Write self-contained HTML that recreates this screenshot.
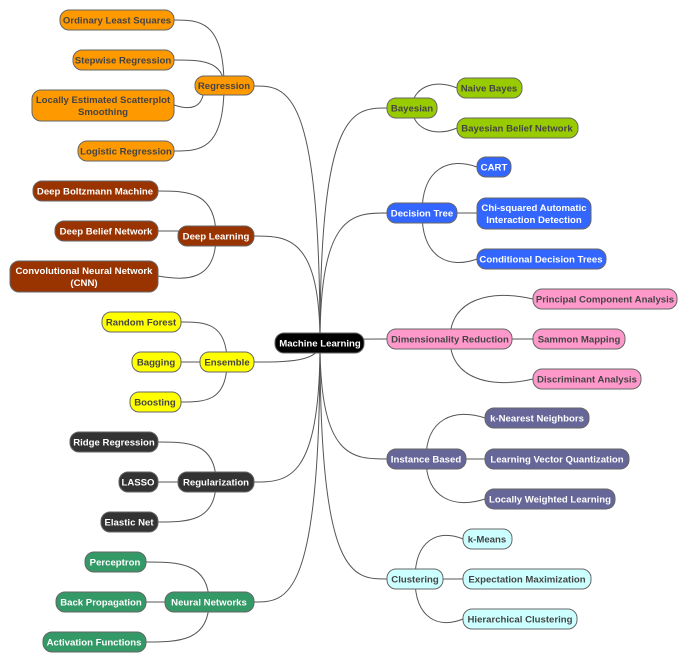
<!DOCTYPE html>
<html><head><meta charset="utf-8"><style>
html,body{margin:0;padding:0;background:#fff}
svg{display:block}
text{font-family:"Liberation Sans",sans-serif;font-weight:bold;font-size:9.6px;text-anchor:middle}
.d{fill:#444}.w{fill:#fff}
rect{stroke:#666;stroke-width:1}
path{fill:none;stroke:#555;stroke-width:1}
</style></head><body>
<svg width="687" height="662" viewBox="0 0 687 662" xmlns="http://www.w3.org/2000/svg">
<!-- root connectors -->
<path d="M320 343 C320 86,287 86,254 86"/>
<path d="M320 343 C320 236,287 236,254 236"/>
<path d="M320 343 C320 362,287 362,254 362"/>
<path d="M320 343 C320 482,287 482,254 482"/>
<path d="M320 343 C320 602,287 602,254 602"/>
<path d="M320 343 C320 108,353 108,387 108"/>
<path d="M320 343 C320 213,353 213,387 213"/>
<path d="M320 343 C320 339,353 339,387 339"/>
<path d="M320 343 C320 459,353 459,387 459"/>
<path d="M320 343 C320 579,353 579,387 579"/>
<!-- regression -->
<path d="M224 86 C224 20,199 20,174 20"/>
<path d="M224 86 C224 60,199 60,174 60"/>
<path d="M204 86 C204 110,189 110,174 105"/>
<path d="M224 86 C224 151,199 151,174 151"/>
<!-- deep learning -->
<path d="M216 236 C216 191,187 191,158 191"/>
<path d="M216 231 L158 231"/>
<path d="M216 236 C216 281,187 281,158 276"/>
<!-- ensemble -->
<path d="M227 362 C227 322,204 322,181 322"/>
<path d="M227 362 L181 362"/>
<path d="M227 362 C227 402,204 402,181 402"/>
<!-- regularization -->
<path d="M216 482 C216 442,187 442,158 442"/>
<path d="M216 482 L158 482"/>
<path d="M216 482 C216 522,187 522,158 522"/>
<!-- NN -->
<path d="M209 602 C209 562,177 562,146 562"/>
<path d="M209 602 L146 602"/>
<path d="M209 602 C209 642,177 642,146 642"/>
<!-- bayesian -->
<path d="M412 108 C412 88,434 78,457 88"/>
<path d="M412 108 C412 128,434 138,457 128"/>
<!-- DT -->
<path d="M422 213 C422 167,450 157,477 167"/>
<path d="M422 213 L477 213"/>
<path d="M422 213 C422 259,450 269,477 259"/>
<!-- DR -->
<path d="M450 339 C450 299,491 289,533 299"/>
<path d="M450 339 L533 339"/>
<path d="M450 339 C450 379,491 389,533 379"/>
<!-- IB -->
<path d="M426 459 C426 418,455 408,485 418"/>
<path d="M426 459 L485 459"/>
<path d="M426 459 C426 499,455 509,485 499"/>
<!-- Clustering -->
<path d="M415 579 C415 539,439 529,463 539"/>
<path d="M415 579 L463 579"/>
<path d="M415 579 C415 619,439 629,463 619"/>

<!-- root -->
<rect x="275" y="333" width="89" height="20" rx="9" fill="#000" stroke="#000"/><text class="w" x="320" y="346.5">Machine Learning</text>

<g fill="#FF9900">
<rect x="195" y="76" width="59" height="19" rx="9"/>
<rect x="60" y="10" width="114" height="20" rx="9"/>
<rect x="73" y="50" width="101" height="20" rx="9"/>
<rect x="32" y="90" width="142" height="31" rx="9"/>
<rect x="78" y="141" width="96" height="20" rx="9"/>
</g>
<text class="d" x="224" y="89">Regression</text>
<text class="d" x="117" y="23.5">Ordinary Least Squares</text>
<text class="d" x="123" y="63.5">Stepwise Regression</text>
<text class="d" x="103" y="103">Locally Estimated Scatterplot</text>
<text class="d" x="103" y="115">Smoothing</text>
<text class="d" x="126" y="154.5">Logistic Regression</text>

<g fill="#993300">
<rect x="178" y="226" width="76" height="20" rx="9"/>
<rect x="33" y="181" width="125" height="20" rx="9"/>
<rect x="55" y="221" width="103" height="20" rx="9"/>
<rect x="10" y="261" width="148" height="31" rx="9"/>
</g>
<text class="w" x="216" y="239.5">Deep Learning</text>
<text class="w" x="95" y="194.5">Deep Boltzmann Machine</text>
<text class="w" x="106" y="234.5">Deep Belief Network</text>
<text class="w" x="84" y="274">Convolutional Neural Network</text>
<text class="w" x="84" y="286">(CNN)</text>

<g fill="#FFFF00">
<rect x="200" y="352" width="54" height="20" rx="9"/>
<rect x="102" y="312" width="79" height="20" rx="9"/>
<rect x="132" y="352" width="49" height="20" rx="9"/>
<rect x="130" y="392" width="51" height="20" rx="9"/>
</g>
<text class="d" x="227" y="365.5">Ensemble</text>
<text class="d" x="141" y="325.5">Random Forest</text>
<text class="d" x="156" y="365.5">Bagging</text>
<text class="d" x="155" y="405.5">Boosting</text>

<g fill="#333333">
<rect x="178" y="472" width="76" height="20" rx="9"/>
<rect x="70" y="432" width="88" height="20" rx="9"/>
<rect x="119" y="472" width="39" height="20" rx="9"/>
<rect x="101" y="512" width="57" height="20" rx="9"/>
</g>
<text class="w" x="216" y="485.5">Regularization</text>
<text class="w" x="114" y="445.5">Ridge Regression</text>
<text class="w" x="138" y="485.5">LASSO</text>
<text class="w" x="129" y="525.5">Elastic Net</text>

<g fill="#339966">
<rect x="165" y="592" width="89" height="20" rx="9"/>
<rect x="85" y="552" width="61" height="20" rx="9"/>
<rect x="56" y="592" width="90" height="20" rx="9"/>
<rect x="43" y="632" width="103" height="20" rx="9"/>
</g>
<text class="w" x="209" y="605.5">Neural Networks</text>
<text class="w" x="115" y="565.5">Perceptron</text>
<text class="w" x="101" y="605.5">Back Propagation</text>
<text class="w" x="94" y="645.5">Activation Functions</text>

<g fill="#99CC00">
<rect x="387" y="98" width="50" height="20" rx="9"/>
<rect x="457" y="78" width="65" height="20" rx="9"/>
<rect x="457" y="118" width="121" height="20" rx="9"/>
</g>
<text class="d" x="412" y="111.5">Bayesian</text>
<text class="d" x="489" y="91.5">Naive Bayes</text>
<text class="d" x="517" y="131.5">Bayesian Belief Network</text>

<g fill="#3366FF">
<rect x="387" y="203" width="70" height="20" rx="9"/>
<rect x="477" y="157" width="34" height="20" rx="9"/>
<rect x="477" y="198" width="114" height="31" rx="9"/>
<rect x="477" y="249" width="129" height="20" rx="9"/>
</g>
<text class="w" x="422" y="216.5">Decision Tree</text>
<text class="w" x="494" y="170.5">CART</text>
<text class="w" x="534" y="211">Chi-squared Automatic</text>
<text class="w" x="534" y="223">Interaction Detection</text>
<text class="w" x="541" y="262.5">Conditional Decision Trees</text>

<g fill="#FF99CC">
<rect x="387" y="329" width="125" height="20" rx="9"/>
<rect x="533" y="289" width="144" height="20" rx="9"/>
<rect x="533" y="329" width="92" height="20" rx="9"/>
<rect x="533" y="369" width="108" height="20" rx="9"/>
</g>
<text class="d" x="450" y="342.5">Dimensionality Reduction</text>
<text class="d" x="605" y="302.5">Principal Component Analysis</text>
<text class="d" x="579" y="342.5">Sammon Mapping</text>
<text class="d" x="587" y="382.5">Discriminant Analysis</text>

<g fill="#666699">
<rect x="387" y="449" width="79" height="20" rx="9"/>
<rect x="485" y="408" width="104" height="20" rx="9"/>
<rect x="485" y="449" width="144" height="20" rx="9"/>
<rect x="485" y="489" width="130" height="20" rx="9"/>
</g>
<text class="w" x="426" y="462.5">Instance Based</text>
<text class="w" x="537" y="421.5">k-Nearest Neighbors</text>
<text class="w" x="557" y="462.5">Learning Vector Quantization</text>
<text class="w" x="550" y="502.5">Locally Weighted Learning</text>

<g fill="#CCFFFF">
<rect x="387" y="569" width="56" height="20" rx="9"/>
<rect x="463" y="529" width="49" height="20" rx="9"/>
<rect x="463" y="569" width="128" height="20" rx="9"/>
<rect x="463" y="609" width="114" height="20" rx="9"/>
</g>
<text class="d" x="415" y="582.5">Clustering</text>
<text class="d" x="487" y="542.5">k-Means</text>
<text class="d" x="527" y="582.5">Expectation Maximization</text>
<text class="d" x="520" y="622.5">Hierarchical Clustering</text>
</svg>
</body></html>
